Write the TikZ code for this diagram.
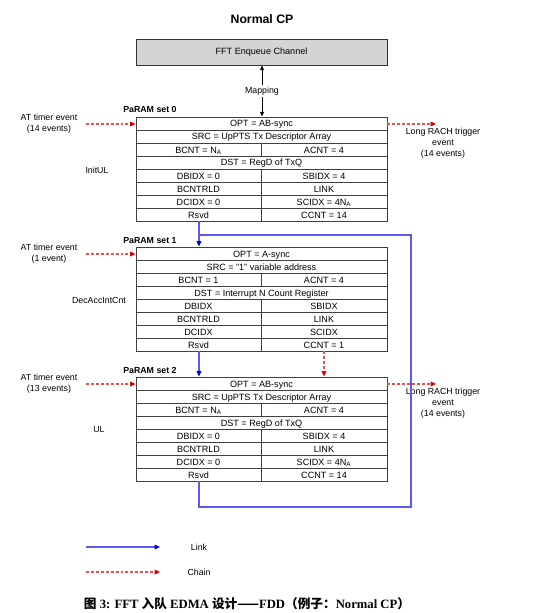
\documentclass[tikz,border=0pt]{standalone}
\usepackage{fontspec}
\setmainfont{Liberation Sans}
\newfontfamily\capserif{Liberation Serif}
\newfontfamily\capcjk{Noto Sans CJK SC}
\usetikzlibrary{arrows.meta}
\definecolor{linkblue}{RGB}{90,90,235}
\definecolor{chainred}{RGB}{235,80,80}
\tikzset{
  cell/.style={inner sep=0pt, anchor=base, font=\fontsize{6.8}{8}\selectfont},
  lbl/.style={inner sep=0pt, align=center, font=\fontsize{6.6}{8.1}\selectfont},
  setlbl/.style={inner sep=0pt, anchor=base west, font=\bfseries\fontsize{6.6}{8}\selectfont},
  tbl/.style={draw=black!75, line width=0.7pt, minimum width=251*0.75pt, minimum height=104*0.75pt, inner sep=0pt},
  rowline/.style={draw=black!75, line width=0.6pt},
  linkarrow/.style={draw=linkblue, line width=0.8pt, -{Triangle[length=4pt,width=3.5pt,color=blue!85!black]}},
  linkline/.style={draw=linkblue, line width=0.8pt},
  chainarrow/.style={draw=chainred, line width=0.8pt, dash pattern=on 2.2pt off 1.5pt, -{Triangle[length=4pt,width=3.5pt,color=red!85!black]}},
  maparrow/.style={draw=black, line width=0.6pt, -{Triangle[length=3.5pt,width=3pt]}},
}
\begin{document}
\begin{tikzpicture}[x=0.75pt,y=-0.75pt]
\useasboundingbox[fill=white] (0,0) rectangle (545,613);
% title
\node[font=\bfseries\fontsize{9.2}{11}\selectfont] (title) at (262,19) {Normal CP};
% FFT channel
\node[draw=black!80, fill=black!17, line width=0.7pt, minimum width=251*0.75pt, minimum height=26*0.75pt, font=\fontsize{6.8}{8}\selectfont] (fft) at (261.5,52) {FFT Enqueue Channel};

% ---------- tables ----------
\newcommand\mytablegrid[2]{%
  \node[tbl] (#1) at (261.5,#2+52) {};
  \foreach \i in {1,...,7} \draw[rowline] (136,#2+13*\i) -- (387,#2+13*\i);
  \draw[rowline] (261,#2+26) -- (261,#2+39);
  \draw[rowline] (261,#2+52) -- (261,#2+104);
}
\newcommand\full[3]{\node[cell] (#1) at (261.5,#2+10) {#3};}
\newcommand\lc[3]{\node[cell] (#1) at (198.5,#2+10) {#3};}
\newcommand\rc[3]{\node[cell] (#1) at (324,#2+10) {#3};}
\newcommand\NA{N\textsubscript{A}}

% table 0
\mytablegrid{t0}{117}
\full{t0opt}{117}{OPT = AB-sync}
\full{t0src}{130}{SRC = UpPTS Tx Descriptor Array}
\lc{t0bcnt}{143}{BCNT = \NA}
\rc{t0acnt}{143}{ACNT = 4}
\full{t0dst}{156}{DST = RegD of TxQ}
\lc{t0dbidx}{169}{DBIDX = 0}
\rc{t0sbidx}{169}{SBIDX = 4}
\lc{t0bcntrld}{182}{BCNTRLD}
\rc{t0link}{182}{LINK}
\lc{t0dcidx}{195}{DCIDX = 0}
\rc{t0scidx}{195}{SCIDX = 4\NA}
\lc{t0rsvd}{208}{Rsvd}
\rc{t0ccnt}{208}{CCNT = 14}

% table 1
\mytablegrid{t1}{247}
\full{t1opt}{247}{OPT = A-sync}
\full{t1src}{260}{SRC = "1" variable address}
\lc{t1bcnt}{273}{BCNT = 1}
\rc{t1acnt}{273}{ACNT = 4}
\full{t1dst}{286}{DST = Interrupt N Count Register}
\lc{t1dbidx}{299}{DBIDX}
\rc{t1sbidx}{299}{SBIDX}
\lc{t1bcntrld}{312}{BCNTRLD}
\rc{t1link}{312}{LINK}
\lc{t1dcidx}{325}{DCIDX}
\rc{t1scidx}{325}{SCIDX}
\lc{t1rsvd}{338}{Rsvd}
\rc{t1ccnt}{338}{CCNT = 1}

% table 2
\mytablegrid{t2}{377}
\full{t2opt}{377}{OPT = AB-sync}
\full{t2src}{390}{SRC = UpPTS Tx Descriptor Array}
\lc{t2bcnt}{403}{BCNT = \NA}
\rc{t2acnt}{403}{ACNT = 4}
\full{t2dst}{416}{DST = RegD of TxQ}
\lc{t2dbidx}{429}{DBIDX = 0}
\rc{t2sbidx}{429}{SBIDX = 4}
\lc{t2bcntrld}{442}{BCNTRLD}
\rc{t2link}{442}{LINK}
\lc{t2dcidx}{455}{DCIDX = 0}
\rc{t2scidx}{455}{SCIDX = 4\NA}
\lc{t2rsvd}{468}{Rsvd}
\rc{t2ccnt}{468}{CCNT = 14}

% set labels
\node[setlbl] (s0) at (123,113) {PaRAM set 0};
\node[setlbl] (s1) at (123,243) {PaRAM set 1};
\node[setlbl] (s2) at (123,373) {PaRAM set 2};

% side labels
\node[lbl] (init) at (97,170) {InitUL};
\node[lbl] (dec) at (99,300) {DecAccIntCnt};
\node[lbl] (ul) at (99,430) {UL};

% AT timer events
\node[lbl] (at0) at (49,123.5) {AT timer event\\(14 events)};
\node[lbl] (at1) at (49,253.5) {AT timer event\\(1 event)};
\node[lbl] (at2) at (49,383.5) {AT timer event\\(13 events)};
\coordinate (at0e) at (86,124);
\coordinate (at1e) at (86,254);
\coordinate (at2e) at (86,384);
\draw[chainarrow] (at0e) -- (t0.west |- at0e);
\draw[chainarrow] (at1e) -- (t1.west |- at1e);
\draw[chainarrow] (at2e) -- (t2.west |- at2e);

% Long RACH
\node[lbl] (lr0) at (443,143.5) {Long RACH trigger\\event\\(14 events)};
\node[lbl] (lr2) at (443,403.5) {Long RACH trigger\\event\\(14 events)};
\coordinate (lr0s) at (436,124);
\coordinate (lr2s) at (436,384);
\draw[chainarrow] (t0.east |- lr0s) -- (lr0s);
\draw[chainarrow] (t2.east |- lr2s) -- (lr2s);

% mapping
\node[lbl, fill=white, inner sep=1.5pt] (map) at (262,91) {Mapping};
\draw[maparrow] (map.north) -- (fft.south -| map.north);
\draw[maparrow] (map.south) -- (t0.north -| map.south);

% links
\coordinate (lk0) at (199,221);
\coordinate (lk1) at (199,351);
\coordinate (lk2) at (199,481);
\coordinate (loopA) at (199,507);
\coordinate (loopB) at (411,507);
\coordinate (loopC) at (411,235);
\coordinate (loopD) at (199,235);
\draw[linkarrow] (lk0) -- (lk0 |- t1.north);
\draw[linkarrow] (lk1) -- (lk1 |- t2.north);
\draw[linkline] (lk2) -- (loopA) -- (loopB) -- (loopC) -- (loopD);

% chain t1 -> t2
\coordinate (ch1) at (324,351);
\draw[chainarrow] (ch1) -- (ch1 |- t2.north);

% legend
\coordinate (lgA) at (86,547);
\coordinate (lgB) at (160,547);
\coordinate (lgC) at (86,572);
\coordinate (lgD) at (160,572);
\draw[linkarrow] (lgA) -- (lgB);
\draw[chainarrow] (lgC) -- (lgD);
\node[lbl] (lglink) at (199,547) {Link};
\node[lbl] (lgchain) at (199,572) {Chain};

% caption
\node[inner sep=0pt, font=\fontsize{9.5}{11}\selectfont] (cap) at (247,604)
 {{\capcjk\bfseries 图}{\capserif\bfseries\ 3: FFT }{\capcjk\bfseries 入队}{\capserif\bfseries\ EDMA }{\capcjk\bfseries 设计——}{\capserif\bfseries FDD}{\capcjk\bfseries （例子：}{\capserif\bfseries Normal CP}{\capcjk\bfseries ）}};
\end{tikzpicture}
\end{document}
